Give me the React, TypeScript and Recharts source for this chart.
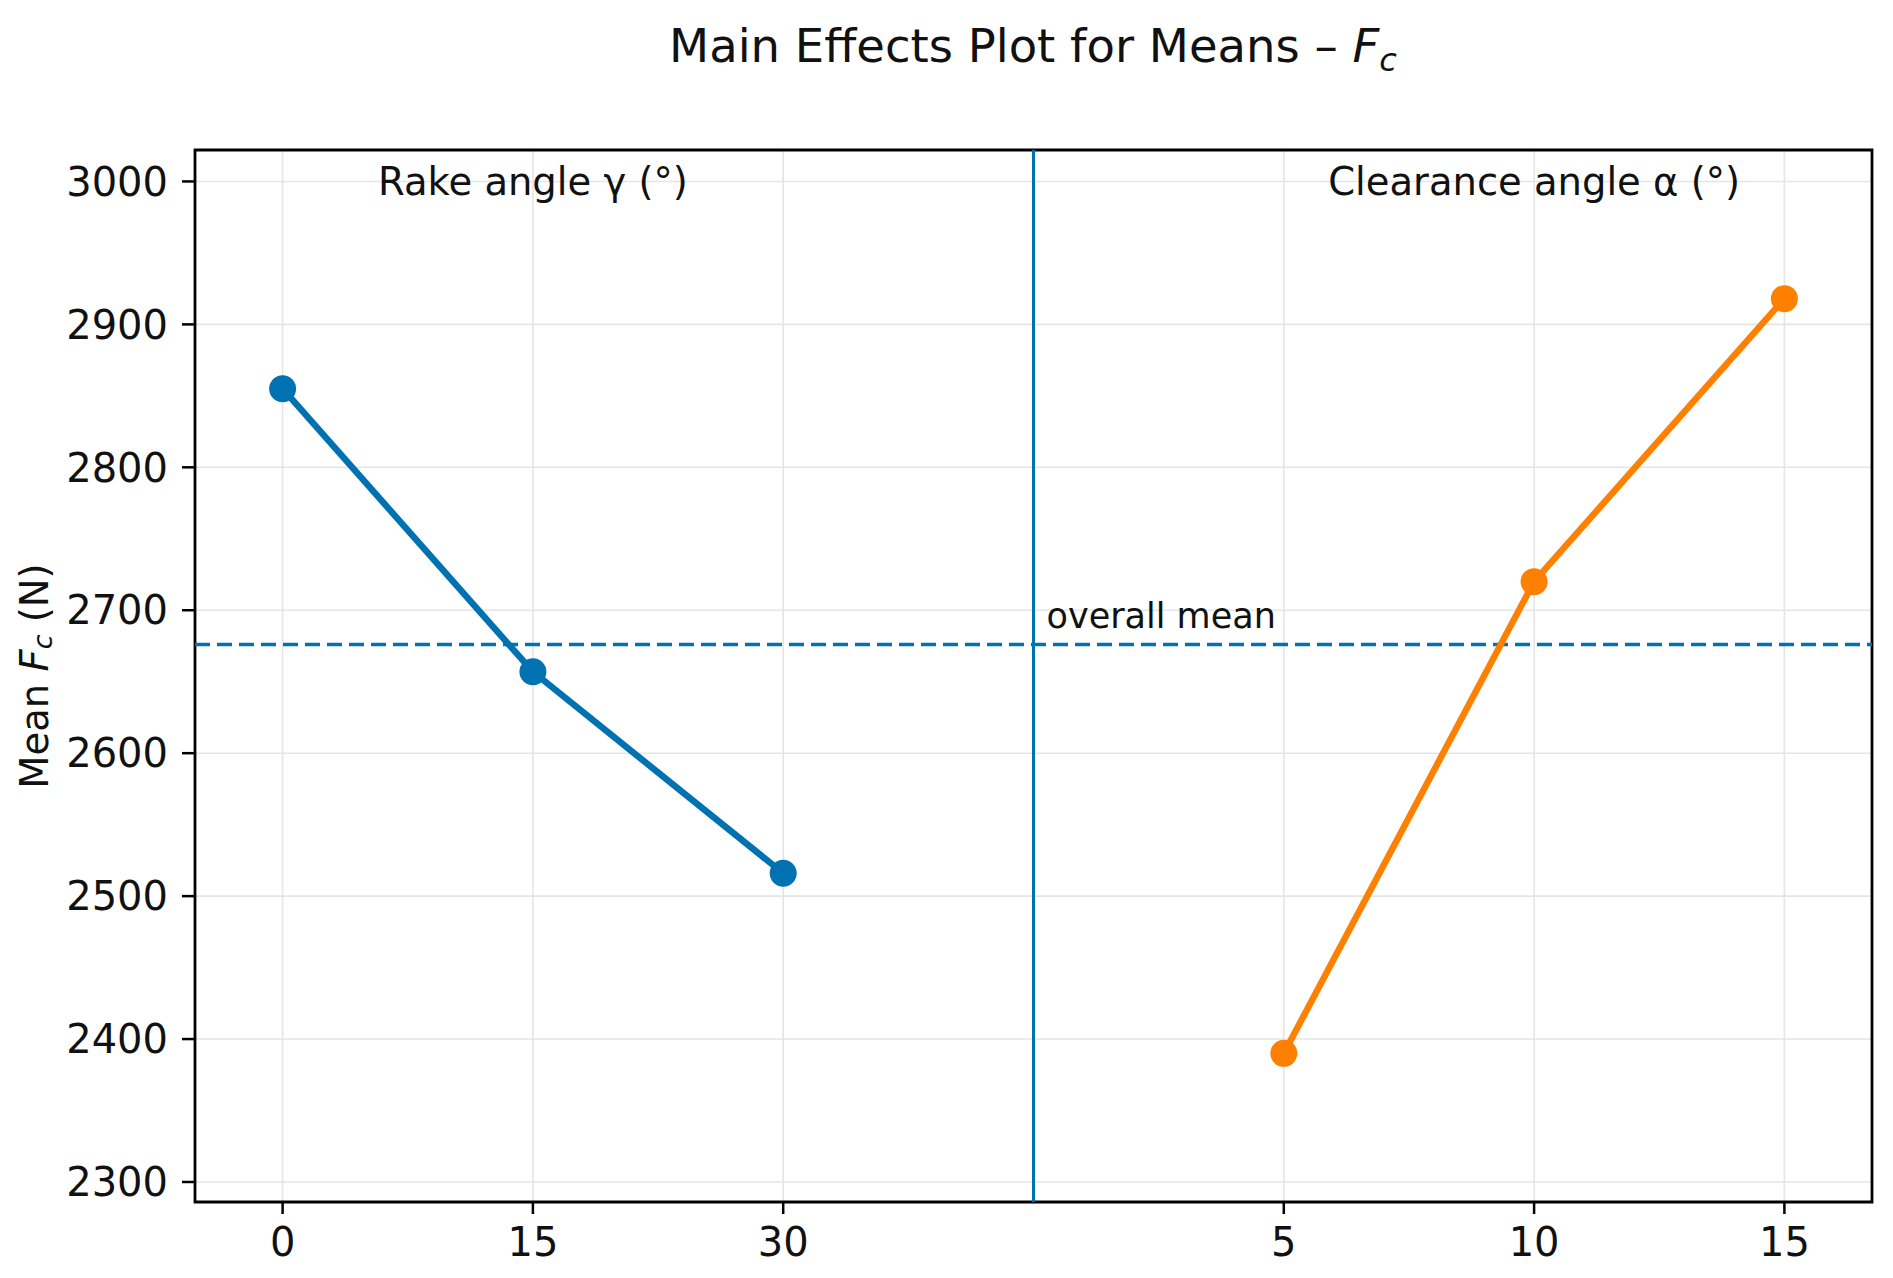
import React from "react";
import {
  LineChart,
  Line,
  XAxis,
  YAxis,
  CartesianGrid,
  ReferenceLine,
  ReferenceDot,
  ReferenceArea,
  Label
} from "recharts";

// factor levels and their mean responses
const rakeLevels = [0, 15, 30];
const rakeMeans = [2855, 2657, 2516];
const clearanceLevels = [5, 10, 15];
const clearanceMeans = [2390, 2720, 2918];
const overallMean = 2676;

const yTicks = [2300, 2400, 2500, 2600, 2700, 2800, 2900, 3000];
const yDomain = [2286, 3022];
const xDomain = [-0.35, 6.35];

const BLUE = "#0072B2";
const ORANGE = "#FF8000";
const FONT = "'DejaVu Sans', sans-serif";

// rake levels sit at 0..2, divider at 3, clearance levels at 4..6
const divider = rakeLevels.length;
const rakePoints = rakeLevels.map((level, i) => ({ pos: i, level, mean: rakeMeans[i] }));
const clearancePoints = clearanceLevels.map((level, i) => ({
  pos: divider + 1 + i,
  level,
  mean: clearanceMeans[i]
}));
const allPoints = [...rakePoints, ...clearancePoints];
const tickPositions = allPoints.map((p) => p.pos);
const tickLabel = (v: number) => {
  const p = allPoints.find((q) => q.pos === v);
  return p ? String(p.level) : "";
};

const textAt = (text: string, anchor: string, size: number, dy: number, dx = 0) => (props: any) => (
  <text
    x={props.cx + dx}
    y={props.cy + dy}
    textAnchor={anchor}
    dominantBaseline="central"
    fontFamily={FONT}
    fontSize={size}
    fill="#111"
  >
    {text}
  </text>
);

const YLabel = (props: any) => {
  const vb = props.viewBox || { x: 0, y: 150, width: 195, height: 1052 };
  const cx = vb.x + 34;
  const cy = vb.y + vb.height / 2;
  return (
    <text
      x={cx}
      y={cy}
      transform={`rotate(-90 ${cx} ${cy})`}
      textAnchor="middle"
      dominantBaseline="central"
      fontFamily={FONT}
      fontSize={38.5}
      fill="#111"
    >
      Mean <tspan fontStyle="italic">F</tspan>
      <tspan fontStyle="italic" fontSize={27} dy={8}>c</tspan>
      <tspan dy={-8}> (N)</tspan>
    </text>
  );
};

export default function App() {
  return (
    <div style={{ position: "relative", width: 1893, height: 1278, background: "#fff" }}>
      <style>{`body{margin:0}`}</style>
      <div
        style={{
          position: "absolute",
          left: 0,
          width: 2066,
          top: 18,
          textAlign: "center",
          fontFamily: FONT,
          fontSize: 46.5,
          color: "#111",
          lineHeight: "56px"
        }}
      >
        Main Effects Plot for Means – <i>F</i>
        <sub style={{ fontSize: 32, verticalAlign: "-9px" }}>
          <i>c</i>
        </sub>
      </div>
      <LineChart width={1893} height={1278} margin={{ top: 150, right: 21, left: 0, bottom: 0 }}>
        <CartesianGrid stroke="#e5e5e5" strokeWidth={1.6} />
        <XAxis
          type="number"
          dataKey="pos"
          domain={xDomain}
          ticks={tickPositions}
          tickFormatter={tickLabel}
          allowDataOverflow
          height={76}
          axisLine={false}
          tickSize={12}
          tickMargin={14}
          tickLine={{ stroke: "#000", strokeWidth: 2.5 }}
          tick={{ fill: "#111", fontSize: 40, fontFamily: FONT }}
        />
        <YAxis
          type="number"
          domain={yDomain}
          ticks={yTicks}
          allowDataOverflow
          width={195}
          axisLine={false}
          tickSize={13}
          tickMargin={14}
          tickLine={{ stroke: "#000", strokeWidth: 2.5 }}
          tick={{ fill: "#111", fontSize: 40, fontFamily: FONT }}
        >
          <Label content={<YLabel />} />
        </YAxis>
        <ReferenceLine y={overallMean} stroke={BLUE} strokeWidth={3.4} strokeDasharray="15 7" />
        <ReferenceLine x={divider} stroke={BLUE} strokeWidth={3} />
        <Line
          data={rakePoints}
          dataKey="mean"
          type="linear"
          stroke={BLUE}
          strokeWidth={6.5}
          dot={{ r: 13.5, fill: BLUE, stroke: BLUE, strokeWidth: 0 }}
          activeDot={false}
          isAnimationActive={false}
        />
        <Line
          data={clearancePoints}
          dataKey="mean"
          type="linear"
          stroke={ORANGE}
          strokeWidth={6.5}
          dot={{ r: 13.5, fill: ORANGE, stroke: ORANGE, strokeWidth: 0 }}
          activeDot={false}
          isAnimationActive={false}
        />
        <ReferenceDot
          x={rakePoints[1].pos}
          y={yTicks[yTicks.length - 1]}
          r={0}
          shape={textAt("Rake angle γ (°)", "middle", 38.5, 0)}
        />
        <ReferenceDot
          x={clearancePoints[1].pos}
          y={yTicks[yTicks.length - 1]}
          r={0}
          shape={textAt("Clearance angle α (°)", "middle", 38.5, 0)}
        />
        <ReferenceDot
          x={divider}
          y={overallMean}
          r={0}
          shape={textAt("overall mean", "start", 35, -29, 13)}
        />
        <ReferenceArea
          x1={xDomain[0]}
          x2={xDomain[1]}
          y1={yDomain[0]}
          y2={yDomain[1]}
          fill="none"
          stroke="#000"
          strokeWidth={2.8}
          ifOverflow="visible"
        />
      </LineChart>
    </div>
  );
}
